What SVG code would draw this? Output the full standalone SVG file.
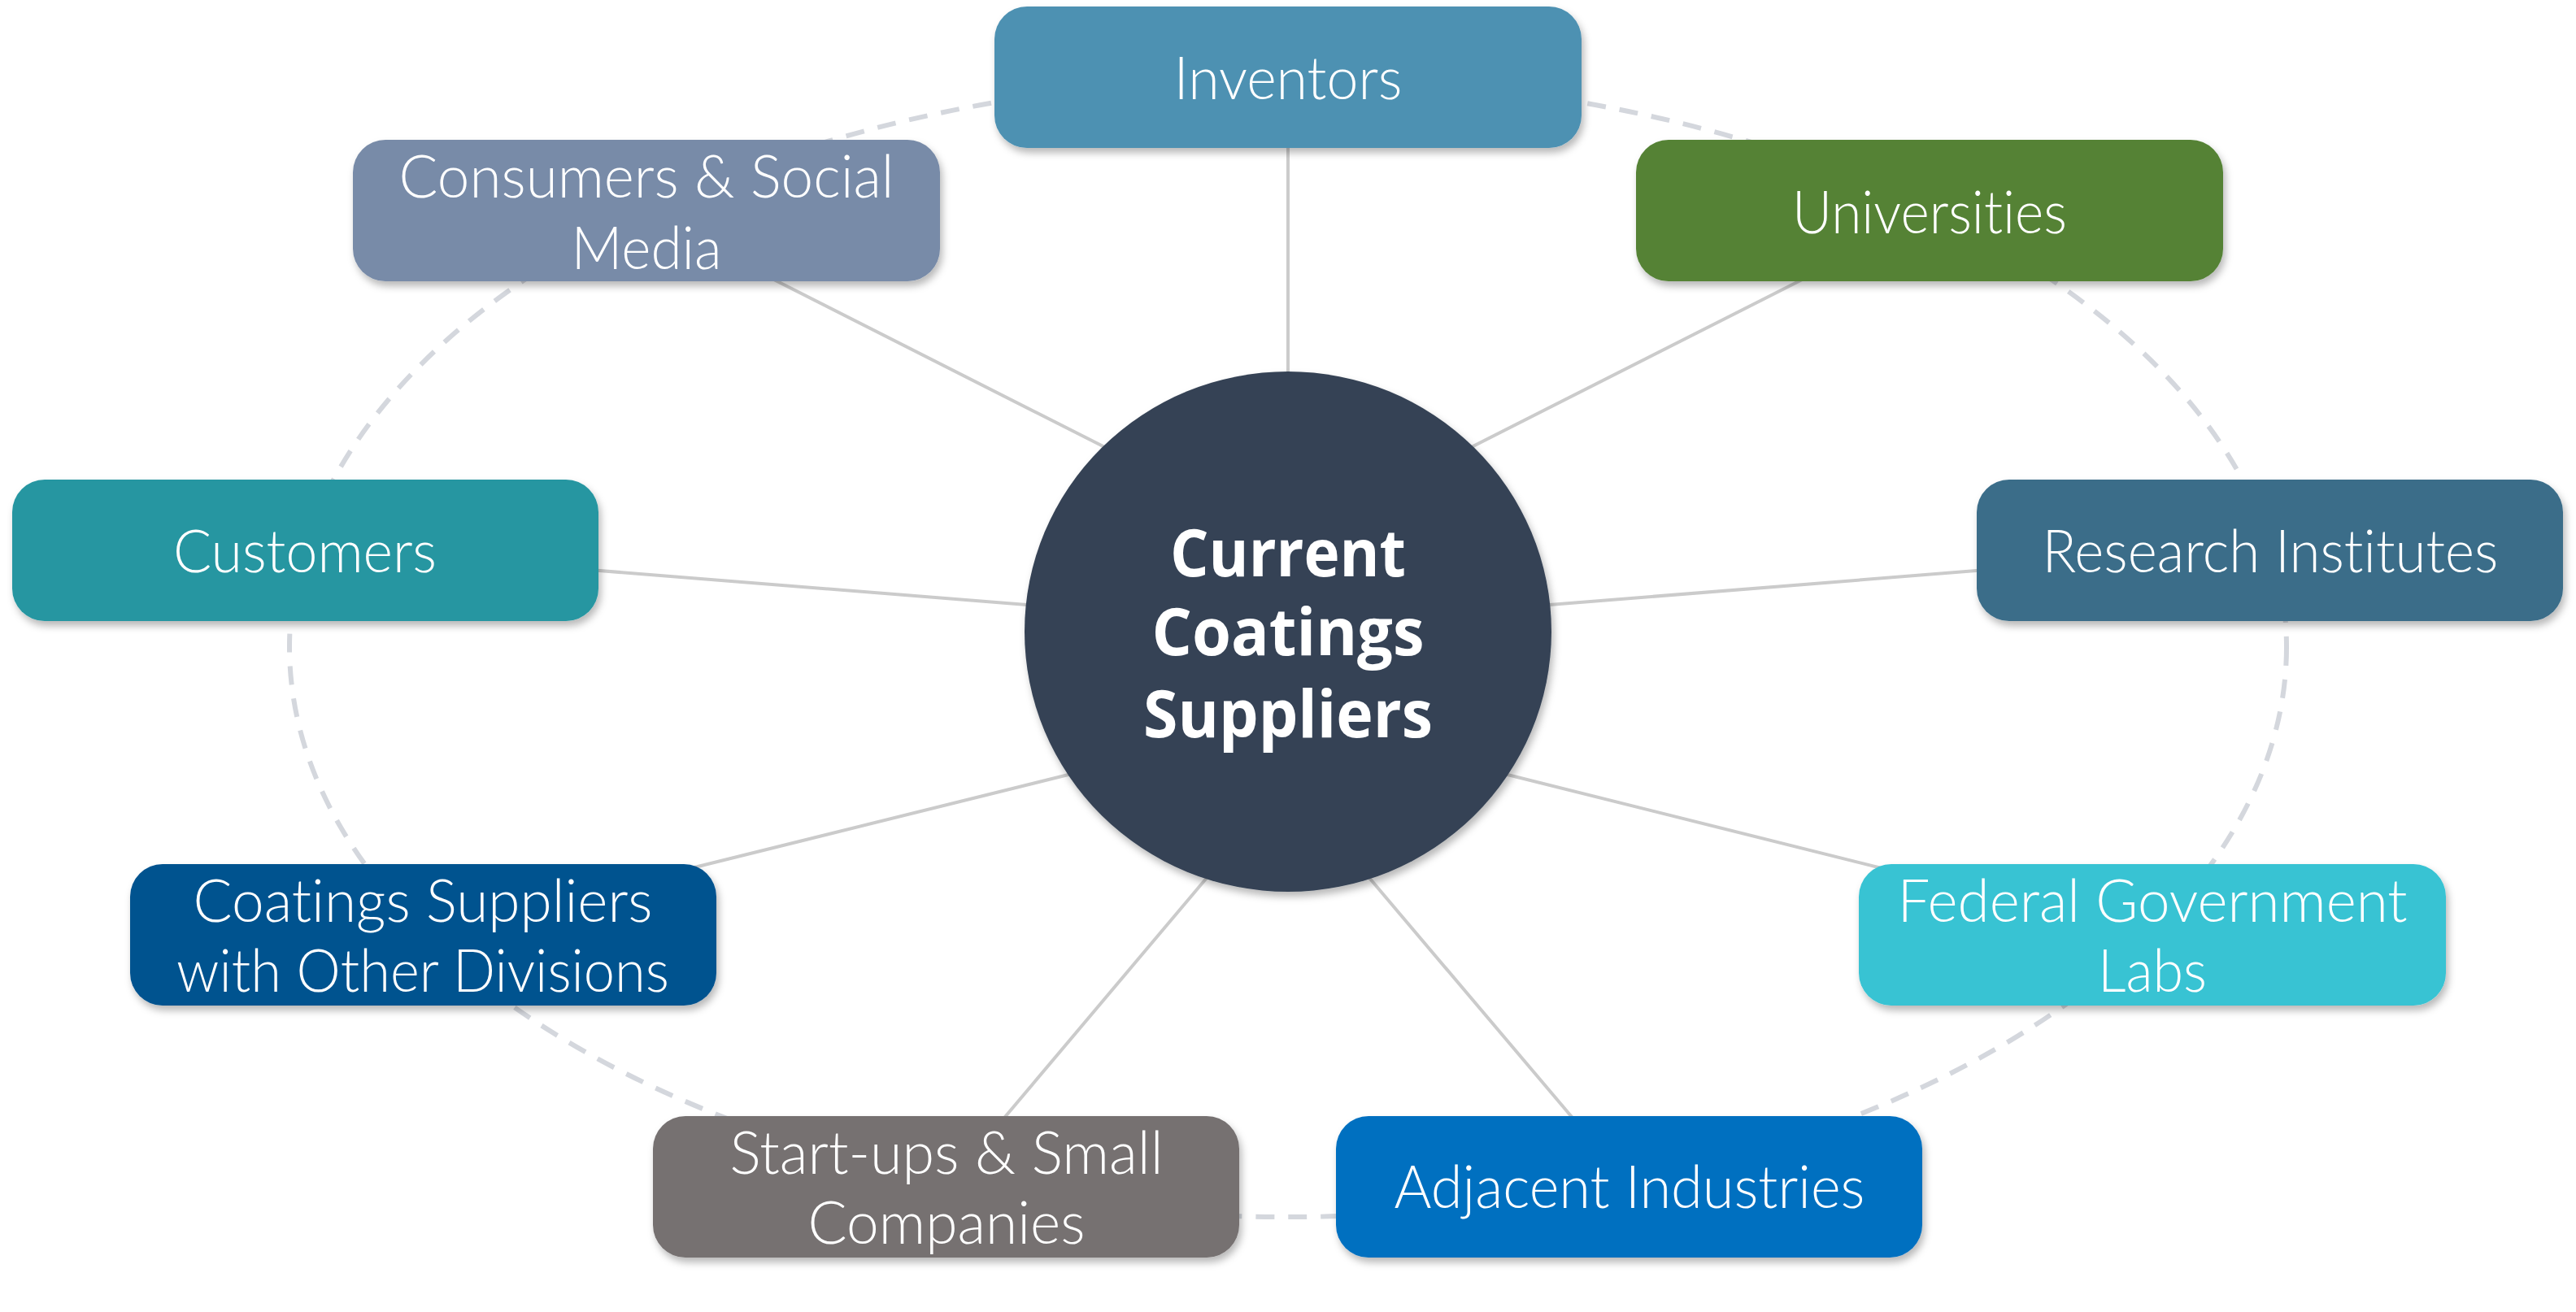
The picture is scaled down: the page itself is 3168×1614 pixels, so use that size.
<svg xmlns="http://www.w3.org/2000/svg" width="3168" height="1614" viewBox="0 0 3168 1614">
<defs>
<filter id="sh" x="-10%" y="-20%" width="120%" height="150%">
<feDropShadow dx="3" dy="6" stdDeviation="5" flood-color="#000" flood-opacity="0.28"/>
</filter>
<style>
.box{filter:url(#sh)}
.lbl{font-family:Lato,"Open Sans","Liberation Sans",sans-serif;font-weight:300;font-size:73px;fill:#ffffff;text-anchor:middle;font-variant-ligatures:none;font-feature-settings:"liga" 0,"clig" 0}
.ctr{font-family:"Open Sans","Noto Sans","Liberation Sans",sans-serif;font-weight:700;font-size:80px;fill:#ffffff;text-anchor:middle}
.ln{stroke:#CBCBCB;stroke-width:4;fill:none}
.dash{stroke:#D4D7DD;stroke-width:6;fill:none;stroke-dasharray:23 17}
</style>
</defs>
<rect width="3168" height="1614" fill="#ffffff"/>
<g id="connectors">
<ellipse class="dash" cx="1584" cy="796" rx="1228" ry="701"/>
<line class="ln" x1="1584" y1="180" x2="1584" y2="470"/>
<line class="ln" x1="934" y1="335" x2="1400" y2="571"/>
<line class="ln" x1="2234" y1="335" x2="1768" y2="571"/>
<line class="ln" x1="700" y1="699" x2="1300" y2="747"/>
<line class="ln" x1="2468" y1="699" x2="1868" y2="747"/>
<line class="ln" x1="830" y1="1073" x2="1350" y2="944"/>
<line class="ln" x1="2338" y1="1074" x2="1818" y2="944"/>
<line class="ln" x1="1225" y1="1387" x2="1500" y2="1061"/>
<line class="ln" x1="1944" y1="1387" x2="1668" y2="1061"/>
</g>
<g id="center">
<ellipse class="box" cx="1584" cy="777" rx="324" ry="320" fill="#364355"/>
<text class="ctr" x="1584" y="709" textLength="290" lengthAdjust="spacingAndGlyphs">Current</text>
<text class="ctr" x="1584" y="806" textLength="335" lengthAdjust="spacingAndGlyphs">Coatings</text>
<text class="ctr" x="1584" y="907" textLength="356" lengthAdjust="spacingAndGlyphs">Suppliers</text>
</g>
<g id="inventors">
<rect class="box" x="1223" y="8" width="722" height="174" rx="40" fill="#4E91B2"/>
<text class="lbl" x="1584" y="122" textLength="281" lengthAdjust="spacingAndGlyphs">Inventors</text>
</g>
<g id="consumers">
<rect class="box" x="434" y="172" width="722" height="174" rx="40" fill="#788BA8"/>
<text class="lbl" x="795" y="243" textLength="609" lengthAdjust="spacingAndGlyphs">Consumers &amp; Social</text>
<text class="lbl" x="795" y="331" textLength="185" lengthAdjust="spacingAndGlyphs">Media</text>
</g>
<g id="universities">
<rect class="box" x="2012" y="172" width="722" height="174" rx="40" fill="#548235"/>
<text class="lbl" x="2373" y="287" textLength="338" lengthAdjust="spacingAndGlyphs">Universities</text>
</g>
<g id="customers">
<rect class="box" x="15" y="590" width="721" height="174" rx="40" fill="#2596A1"/>
<text class="lbl" x="375" y="704" textLength="324" lengthAdjust="spacingAndGlyphs">Customers</text>
</g>
<g id="research">
<rect class="box" x="2431" y="590" width="721" height="174" rx="40" fill="#3B6D89"/>
<text class="lbl" x="2792" y="704" textLength="561" lengthAdjust="spacingAndGlyphs">Research Institutes</text>
</g>
<g id="coatings-divisions">
<rect class="box" x="160" y="1063" width="721" height="174" rx="40" fill="#02528F"/>
<text class="lbl" x="520" y="1134" textLength="565" lengthAdjust="spacingAndGlyphs">Coatings Suppliers</text>
<text class="lbl" x="520" y="1220" textLength="606" lengthAdjust="spacingAndGlyphs">with Other Divisions</text>
</g>
<g id="federal">
<rect class="box" x="2286" y="1063" width="722" height="174" rx="40" fill="#38C3D3"/>
<text class="lbl" x="2647" y="1134" textLength="627" lengthAdjust="spacingAndGlyphs">Federal Government</text>
<text class="lbl" x="2647" y="1220" textLength="134" lengthAdjust="spacingAndGlyphs">Labs</text>
</g>
<g id="startups">
<rect class="box" x="803" y="1373" width="721" height="174" rx="40" fill="#767171"/>
<text class="lbl" x="1164" y="1444" textLength="533" lengthAdjust="spacingAndGlyphs">Start-ups &amp; Small</text>
<text class="lbl" x="1164" y="1530" textLength="341" lengthAdjust="spacingAndGlyphs">Companies</text>
</g>
<g id="adjacent">
<rect class="box" x="1643" y="1373" width="721" height="174" rx="40" fill="#0070C0"/>
<text class="lbl" x="2004" y="1486" textLength="579" lengthAdjust="spacingAndGlyphs">Adjacent Industries</text>
</g>
</svg>
